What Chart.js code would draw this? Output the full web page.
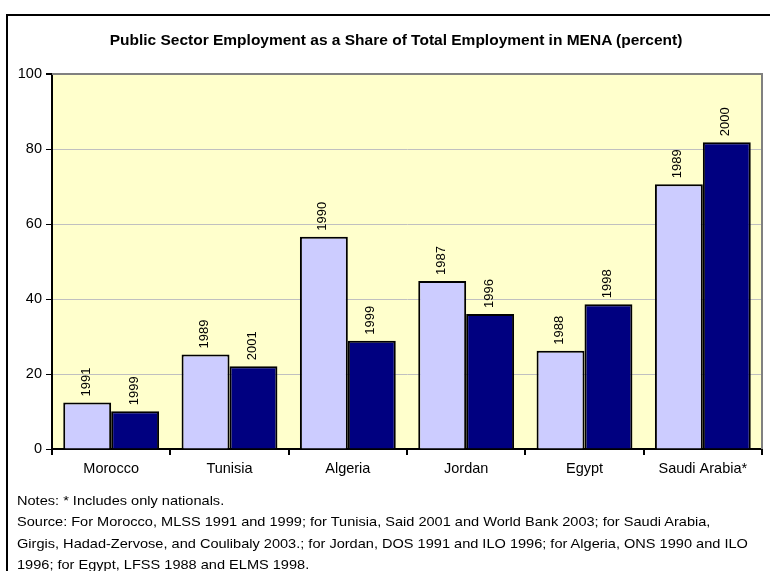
<!DOCTYPE html>
<html>
<head>
<meta charset="utf-8">
<script src="https://cdn.jsdelivr.net/npm/chart.js@4/dist/chart.umd.min.js"></script>
<style>
    body { margin: 0; background: #fff; }
    #wrap { position: relative; width: 770px; height: 571px; overflow: hidden; font-family: "Liberation Sans", Arial, sans-serif; }
    #frame { position: absolute; left: 6px; top: 14px; width: 800px; height: 600px; border-left: 2px solid #000; border-top: 2px solid #000; }
    #chart { position: absolute; left: 0; top: 0; }
    #title { position: absolute; left: 0; top: 31px; width: 792px; text-align: center; font-weight: bold; font-size: 15.5px; color: #000; }
    #notes { position: absolute; left: 17px; top: 490px; font-size: 13px; line-height: 21.3px; color: #000; white-space: nowrap; transform: scaleX(1.12); transform-origin: 0 0; }
</style>
</head>
<body>
<div id="wrap">
    <div id="frame"></div>
    <canvas id="chart" width="770" height="571"></canvas>
    <div id="title">Public Sector Employment as a Share of Total Employment in MENA (percent)</div>
    <div id="notes">
        Notes: * Includes only nationals.<br>
        Source: For Morocco, MLSS 1991 and 1999; for Tunisia, Said 2001 and World Bank 2003; for Saudi Arabia,<br>
        Girgis, Hadad-Zervose, and Coulibaly 2003.; for Jordan, DOS 1991 and ILO 1996; for Algeria, ONS 1990 and ILO<br>
        1996; for Egypt, LFSS 1988 and ELMS 1998.
    </div>
</div>
<script>
const countries = ['Morocco', 'Tunisia', 'Algeria', 'Jordan', 'Egypt', 'Saudi Arabia*'];
const firstShare = [12.4, 25.2, 56.6, 44.8, 26.2, 70.6];
const secondShare = [10.1, 22.1, 28.9, 36.0, 38.6, 81.8];
const firstYears = ['1991', '1989', '1990', '1987', '1988', '1989'];
const secondYears = ['1999', '2001', '1999', '1996', '1998', '2000'];
const yTicks = [0, 20, 40, 60, 80, 100];

const yearLabels = [firstYears, secondYears];

// plot background, gray frame on top/right, and the year labels over the bars
const plotDecor = {
    id: 'plotDecor',
    beforeDraw(chart) {
        const { ctx, chartArea: a } = chart;
        ctx.save();
        ctx.fillStyle = '#FFFFCC';
        ctx.fillRect(a.left, a.top, a.right - a.left, a.bottom - a.top);
        ctx.restore();
    },
    afterDraw(chart) {
        const { ctx, chartArea: a } = chart;
        ctx.save();
        ctx.strokeStyle = '#808080';
        ctx.lineWidth = 2;
        ctx.beginPath();
        ctx.moveTo(a.left, a.top);
        ctx.lineTo(a.right, a.top);
        ctx.lineTo(a.right, a.bottom);
        ctx.stroke();
        ctx.restore();
    },
    afterDatasetsDraw(chart) {
        const ctx = chart.ctx;
        ctx.save();
        ctx.fillStyle = '#000';
        ctx.font = '13px "Liberation Sans", Arial, sans-serif';
        ctx.textAlign = 'left';
        ctx.textBaseline = 'middle';
        chart.data.datasets.forEach((ds, i) => {
            chart.getDatasetMeta(i).data.forEach((bar, j) => {
                ctx.save();
                ctx.translate(bar.x - 1, bar.y - 6);
                ctx.rotate(-Math.PI / 2);
                ctx.fillText(yearLabels[i][j], 0, 0);
                ctx.restore();
            });
        });
        ctx.restore();
    }
};

const tickFont = { family: '"Liberation Sans", Arial, sans-serif', size: 14.5 };

new Chart(document.getElementById('chart'), {
    type: 'bar',
    data: {
        labels: countries,
        datasets: [
            {
                label: 'Earlier year',
                data: firstShare,
                backgroundColor: '#CCCCFF',
                borderColor: '#000',
                borderWidth: 2
            },
            {
                label: 'Later year',
                data: secondShare,
                backgroundColor: '#000080',
                borderColor: '#000',
                borderWidth: 2
            }
        ]
    },
    options: {
        responsive: false,
        animation: false,
        categoryPercentage: 0.81,
        barPercentage: 1.0,
        layout: { padding: { top: 74, right: 8, left: 0, bottom: 0 } },
        plugins: {
            legend: { display: false },
            tooltip: { enabled: false },
            title: { display: false }
        },
        scales: {
            x: {
                grid: {
                    offset: true,
                    drawOnChartArea: false,
                    tickLength: 6,
                    color: '#000',
                    lineWidth: 2
                },
                border: { color: '#000', width: 2 },
                ticks: { color: '#000', padding: 5, font: tickFont },
                afterFit(scale) { scale.height = 122; }
            },
            y: {
                min: 0,
                max: 100,
                afterBuildTicks(scale) { scale.ticks = yTicks.map(v => ({ value: v })); },
                grid: {
                    color: c => c.tick && c.tick.value === 100 ? '#808080' : '#C0C0C0',
                    lineWidth: c => c.tick && c.tick.value === 100 ? 2 : 1,
                    tickLength: 6,
                    tickColor: '#000'
                },
                border: { color: '#000', width: 2 },
                ticks: { color: '#000', padding: 4, font: tickFont },
                afterFit(scale) { scale.width = 52; }
            }
        }
    },
    plugins: [plotDecor]
});
</script>
</body>
</html>
